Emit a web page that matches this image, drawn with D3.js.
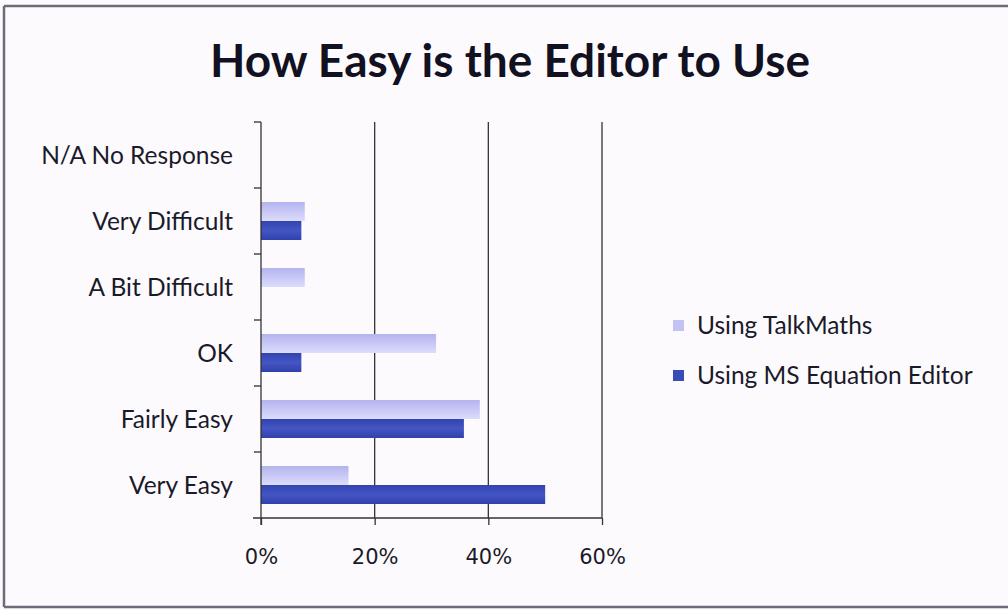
<!DOCTYPE html>
<html>
<head>
<meta charset="utf-8">
<script src="https://cdn.jsdelivr.net/npm/d3@7"></script>
<style>
  html, body { margin: 0; padding: 0; background: #fdfafd; }
  svg { display: block; }
</style>
</head>
<body>
<svg id="chart" width="1008" height="610"></svg>
<script>
const categories = ["N/A No Response", "Very Difficult", "A Bit Difficult", "OK", "Fairly Easy", "Very Easy"];
const seriesNames = ["Using TalkMaths", "Using MS Equation Editor"];
const talkMaths = [0, 0.077, 0.077, 0.308, 0.385, 0.154];
const msEquation = [0, 0.071, 0, 0.071, 0.357, 0.50];
const xTicks = [0, 0.2, 0.4, 0.6];
const title = "How Easy is the Editor to Use";

const svg = d3.select("#chart");
const W = 1008, H = 610;

// background and frame
svg.append("rect").attr("x", 0).attr("y", 0).attr("width", W).attr("height", H).attr("fill", "#fdfafd");
svg.append("line").attr("x1", 4).attr("x2", W).attr("y1", 6).attr("y2", 6).attr("stroke", "#6e6a78").attr("stroke-width", 2.5);
svg.append("line").attr("x1", 4).attr("x2", 4).attr("y1", 6).attr("y2", 607).attr("stroke", "#6e6a78").attr("stroke-width", 2.5);
svg.append("line").attr("x1", 4).attr("x2", W).attr("y1", 607).attr("y2", 607).attr("stroke", "#6e6a78").attr("stroke-width", 2.5);

const defs = svg.append("defs");
const g1 = defs.append("linearGradient").attr("id", "gLight").attr("x1", 0).attr("x2", 0).attr("y1", 0).attr("y2", 1);
g1.append("stop").attr("offset", "0%").attr("stop-color", "#b4b4ee");
g1.append("stop").attr("offset", "50%").attr("stop-color", "#c8c8f6");
g1.append("stop").attr("offset", "100%").attr("stop-color", "#dcdcfb");
const g2 = defs.append("linearGradient").attr("id", "gDark").attr("x1", 0).attr("x2", 0).attr("y1", 0).attr("y2", 1);
g2.append("stop").attr("offset", "0%").attr("stop-color", "#3343b0");
g2.append("stop").attr("offset", "50%").attr("stop-color", "#4356c4");
g2.append("stop").attr("offset", "100%").attr("stop-color", "#3141ac");
const fills = ["url(#gLight)", "url(#gDark)"];
const legendFills = ["#c2c2f4", "#3a4bb8"];

const plot = { left: 261, right: 602, top: 122, bottom: 518 };

const x = d3.scaleLinear().domain([0, 0.6]).range([plot.left, plot.right]);
const y = d3.scaleBand().domain(categories).range([plot.top, plot.bottom]).paddingInner(0.424).paddingOuter(0.212);
const ys = d3.scaleBand().domain(seriesNames).range([0, y.bandwidth()]);

// Title
svg.append("text").attr("x", 510).attr("y", 77).attr("text-anchor", "middle")
  .attr("font-family", "Lato, 'Open Sans', sans-serif").attr("font-weight", "bold")
  .attr("font-size", 46).attr("fill", "#111122").text(title);

// gridlines
svg.append("g").selectAll("line").data(xTicks.filter(d => d > 0)).join("line")
  .attr("x1", d => x(d)).attr("x2", d => x(d)).attr("y1", plot.top).attr("y2", plot.bottom)
  .attr("stroke", "#333333").attr("stroke-width", 1.3);

// bars
const series = [talkMaths, msEquation];
series.forEach((vals, si) => {
  svg.append("g").selectAll("rect").data(categories.map((c, i) => ({ c, v: vals[i] }))).join("rect")
    .attr("x", x(0))
    .attr("y", d => y(d.c) + ys(seriesNames[si]))
    .attr("width", d => x(d.v) - x(0))
    .attr("height", ys.bandwidth())
    .attr("fill", fills[si]);
});

// x axis
const xAxis = d3.axisBottom(x).tickValues(xTicks).tickFormat(d3.format(".0%")).tickSize(7).tickPadding(24);
const xg = svg.append("g").attr("transform", `translate(0,${plot.bottom})`).call(xAxis);
xg.select(".domain").attr("stroke", "#333").attr("stroke-width", 1.3).attr("d", `M${plot.left - 8},0H${plot.right}`);
xg.selectAll(".tick line").attr("stroke", "#333").attr("stroke-width", 1.3);
xg.selectAll(".tick text").attr("font-family", "'DejaVu Sans', Verdana, sans-serif").attr("font-size", 21).attr("fill", "#1a1a2a");

// y axis (category ticks at band boundaries)
const yAxisG = svg.append("g");
yAxisG.append("line").attr("x1", plot.left).attr("x2", plot.left).attr("y1", plot.top).attr("y2", plot.bottom + 7)
  .attr("stroke", "#333").attr("stroke-width", 1.3);
const bounds = categories.map(c => y(c) - y.step() * y.paddingInner() / 2);
yAxisG.selectAll("line.tk").data(bounds).join("line").attr("class", "tk")
  .attr("x1", plot.left - 7).attr("x2", plot.left).attr("y1", d => d).attr("y2", d => d)
  .attr("stroke", "#333").attr("stroke-width", 1.3);
yAxisG.selectAll("text").data(categories).join("text")
  .attr("x", 233).attr("y", c => y(c) + y.bandwidth() / 2).attr("dy", "0.35em")
  .attr("text-anchor", "end").attr("font-family", "Lato, 'Open Sans', sans-serif")
  .attr("font-size", 24.5).attr("fill", "#1a1a2a").text(c => c);

// legend
const lg = svg.append("g").selectAll("g").data(seriesNames).join("g")
  .attr("transform", (d, i) => `translate(673,${325 + i * 50})`);
lg.append("rect").attr("x", 0).attr("y", -5).attr("width", 11).attr("height", 11).attr("fill", (d, i) => legendFills[i]);
lg.append("text").attr("x", 24).attr("y", 0).attr("dy", "0.35em").attr("font-family", "Lato, 'Open Sans', sans-serif")
  .attr("font-size", 24.5).attr("fill", "#1a1a2a").text(d => d);
</script>
</body>
</html>
